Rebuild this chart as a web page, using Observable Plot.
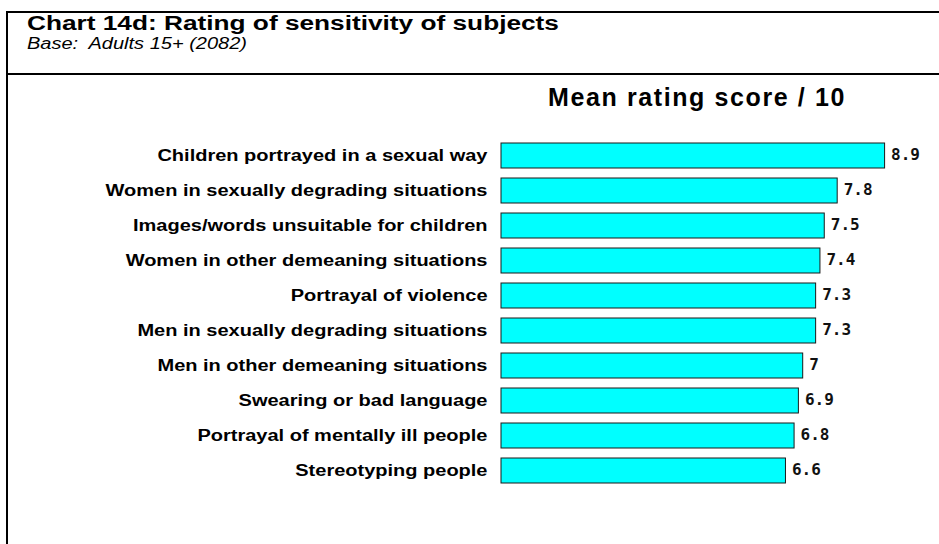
<!DOCTYPE html>
<html>
<head>
<meta charset="utf-8">
<script src="https://cdn.jsdelivr.net/npm/d3@7"></script>
<script src="https://cdn.jsdelivr.net/npm/@observablehq/plot@0.6"></script>
<style>
  html, body { margin: 0; padding: 0; background: #fff; }
  body { width: 939px; height: 544px; position: relative; overflow: hidden; font-family: "Liberation Sans", Arial, sans-serif; color: #000; }
  #frame { position: absolute; left: 6px; top: 11px; width: 940px; height: 540px; border-top: 2px solid #000; border-left: 2px solid #000; }
  #header { position: absolute; left: 0; top: 0; width: 100%; height: 60px; border-bottom: 2px solid #000; }
  #title { position: absolute; left: 19px; top: 0px; font-size: 19.5px; line-height: 20px; font-weight: bold; white-space: nowrap; transform: scaleX(1.345); transform-origin: left center; }
  #subtitle { position: absolute; left: 19px; top: 23px; font-size: 16px; line-height: 16px; font-style: italic; white-space: pre; transform: scaleX(1.25); transform-origin: left center; }
  #measure { position: absolute; left: 697px; top: 85px; font-size: 25px; line-height: 25px; font-weight: bold; letter-spacing: 1.6px; white-space: nowrap; transform: translateX(-50%); }
  #chart { position: absolute; left: 8px; top: 118px; }
</style>
</head>
<body>
<div id="frame"><div id="header"><div id="title"></div><div id="subtitle"></div></div></div>
<div id="measure"></div>
<div id="chart"></div>
<script>
const chartTitle = "Chart 14d: Rating of sensitivity of subjects";
const chartSubtitle = "Base:  Adults 15+ (2082)";
const measureLabel = "Mean rating score / 10";
const categories = [
  "Children portrayed in a sexual way",
  "Women in sexually degrading situations",
  "Images/words unsuitable for children",
  "Women in other demeaning situations",
  "Portrayal of violence",
  "Men in sexually degrading situations",
  "Men in other demeaning situations",
  "Swearing or bad language",
  "Portrayal of mentally ill people",
  "Stereotyping people"
];
const values = [8.9, 7.8, 7.5, 7.4, 7.3, 7.3, 7, 6.9, 6.8, 6.6];

document.getElementById("title").textContent = chartTitle;
document.getElementById("subtitle").textContent = chartSubtitle;
document.getElementById("measure").textContent = measureLabel;

const data = categories.map((c, i) => ({category: c, value: values[i], label: String(values[i])}));

const plot = Plot.plot({
  width: 931,
  height: 426,
  marginTop: 13,
  marginBottom: 49,
  marginLeft: 493,
  marginRight: 7,
  style: {fontFamily: "'Liberation Sans', Arial, sans-serif", fontSize: "16px", fontWeight: "bold", color: "#000", background: "transparent"},
  x: {domain: [0, 10], axis: null},
  y: {domain: categories, padding: 0.28, tickSize: 0, tickPadding: 14, label: null},
  marks: [
    Plot.barX(data, {x: "value", y: "category", fill: "#00FFFF", stroke: "#1a1a1a", strokeWidth: 1}),
    Plot.text(data, {x: "value", y: "category", text: "label", textAnchor: "start", dx: 6, dy: -1.5, fontFamily: "'DejaVu Sans Mono', monospace", fontSize: 16, fontWeight: "bold", fill: "#111"})
  ]
});
document.getElementById("chart").appendChild(plot);

// horizontally stretch the category labels like the reference's wide lettering
plot.querySelectorAll('g[aria-label="y-axis tick label"] text, g[aria-label="y-axis"] text').forEach(t => {
  const tr = t.getAttribute("transform") || "";
  t.setAttribute("transform", tr + " scale(1.25,1)");
});
</script>
</body>
</html>
